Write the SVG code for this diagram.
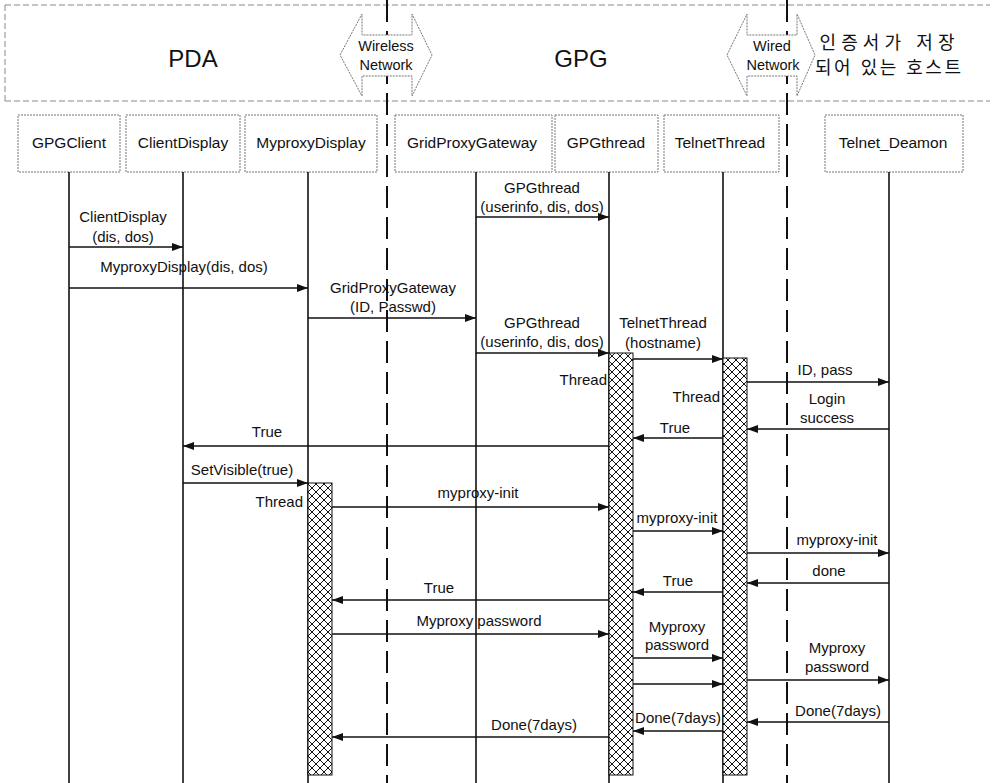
<svg xmlns="http://www.w3.org/2000/svg" width="993" height="783" viewBox="0 0 993 783">
  <style>
    text { font-family: "Liberation Sans", Arial, sans-serif; fill: #111; }
    .hdr { font-size: 24px; text-anchor: middle; }
    .net { font-size: 14.5px; text-anchor: middle; }
    .kr { font-family: "Liberation Sans", "Noto Sans CJK KR", sans-serif; font-size: 18px; text-anchor: middle; }
    .lbl { font-size: 15.5px; text-anchor: middle; }
    .msg { font-size: 15px; text-anchor: middle; }
    .thr { font-size: 15px; text-anchor: end; }
    .frame { stroke: #888; stroke-width: 1; stroke-dasharray: 6 3; fill: none; }
    .box { fill: #fff; stroke: #777; stroke-width: 1; stroke-dasharray: 2 1; }
    .netarrow { fill: #fff; stroke: #777; stroke-width: 1; stroke-dasharray: 2 1; }
    .life { stroke: #111; stroke-width: 1.6; fill: none; }
    .netline { stroke: #111; stroke-width: 2; stroke-dasharray: 22 9; fill: none; }
    .m { stroke: #111; stroke-width: 1.6; fill: none; marker-end: url(#ah); }
    .act { fill: url(#hatch); stroke: #111; stroke-width: 1; }
  </style>
  <defs>
    <marker id="ah" viewBox="0 0 11 8" refX="11" refY="4" markerWidth="11" markerHeight="8" orient="auto" markerUnits="userSpaceOnUse">
      <path d="M0,0 L11,4 L0,8 z" fill="#111"/>
    </marker>
    <pattern id="hatch" patternUnits="userSpaceOnUse" width="8" height="8">
      <rect width="8" height="8" fill="#fff"/>
      <path d="M0,0 L8,8 M8,0 L0,8" stroke="#111" stroke-width="1"/>
    </pattern>
  </defs>

  <!-- header frame -->
  <g id="header">
    <line class="frame" x1="5" y1="5" x2="990" y2="5"/>
    <line class="frame" x1="5" y1="5" x2="5" y2="101"/>
    <line class="frame" x1="5" y1="101" x2="990" y2="101"/>
    <text class="hdr" x="193" y="67">PDA</text>
    <text class="hdr" x="581" y="67">GPG</text>
    <text class="kr" x="887" y="49" textLength="135" lengthAdjust="spacing">인증서가 저장</text>
    <text class="kr" x="888" y="74" textLength="146" lengthAdjust="spacing">되어 있는 호스트</text>
  </g>

  <!-- network boundaries -->
  <g id="wireless-network">
    <line class="netline" x1="387" y1="0" x2="387" y2="783"/>
    <polygon class="netarrow" points="340,55 362,14 362,35 412,35 412,14 432,55 412,96 412,76 362,76 362,96"/>
    <text class="net" x="386" y="51">Wireless</text>
    <text class="net" x="386" y="70">Network</text>
  </g>
  <g id="wired-network">
    <line class="netline" x1="787" y1="0" x2="787" y2="783"/>
    <polygon class="netarrow" points="727,55 747,14 747,35 797,35 797,14 815,55 797,96 797,76 747,76 747,96"/>
    <text class="net" x="772" y="51">Wired</text>
    <text class="net" x="773" y="70">Network</text>
  </g>

  <!-- lifelines -->
  <g id="GPGClient">
    <rect class="box" x="18" y="115" width="102" height="57"/>
    <text class="lbl" x="69" y="148">GPGClient</text>
    <line class="life" x1="69" y1="172" x2="69" y2="783"/>
  </g>
  <g id="ClientDisplay">
    <rect class="box" x="126" y="115" width="114" height="57"/>
    <text class="lbl" x="183" y="148">ClientDisplay</text>
    <line class="life" x1="183" y1="172" x2="183" y2="783"/>
  </g>
  <g id="MyproxyDisplay">
    <rect class="box" x="245" y="115" width="132" height="57"/>
    <text class="lbl" x="311" y="148">MyproxyDisplay</text>
    <line class="life" x1="308" y1="172" x2="308" y2="783"/>
    <rect class="act" x="308" y="483" width="24" height="292"/>
  </g>
  <g id="GridProxyGateway">
    <rect class="box" x="395" y="115" width="157" height="57"/>
    <text class="lbl" x="472" y="148">GridProxyGateway</text>
    <line class="life" x1="476" y1="172" x2="476" y2="783"/>
  </g>
  <g id="GPGthread">
    <rect class="box" x="555" y="115" width="103" height="57"/>
    <text class="lbl" x="606" y="148">GPGthread</text>
    <line class="life" x1="609" y1="172" x2="609" y2="783"/>
    <rect class="act" x="609" y="353" width="24" height="422"/>
  </g>
  <g id="TelnetThread">
    <rect class="box" x="664" y="115" width="115" height="57"/>
    <text class="lbl" x="720" y="148">TelnetThread</text>
    <line class="life" x1="723" y1="172" x2="723" y2="783"/>
    <rect class="act" x="723" y="358" width="24" height="417"/>
  </g>
  <g id="Telnet_Deamon">
    <rect class="box" x="825" y="115" width="138" height="57"/>
    <text class="lbl" x="893" y="148">Telnet_Deamon</text>
    <line class="life" x1="889" y1="172" x2="889" y2="783"/>
  </g>

  <!-- messages -->
  <g id="messages">
    <line class="m" x1="476" y1="217" x2="609" y2="217"/>
    <line class="m" x1="69" y1="247" x2="183" y2="247"/>
    <line class="m" x1="69" y1="288" x2="308" y2="288"/>
    <line class="m" x1="308" y1="318" x2="476" y2="318"/>
    <line class="m" x1="476" y1="353" x2="609" y2="353"/>
    <line class="m" x1="633" y1="359" x2="723" y2="359"/>
    <line class="m" x1="747" y1="382" x2="889" y2="382"/>
    <line class="m" x1="889" y1="429" x2="747" y2="429"/>
    <line class="m" x1="723" y1="438" x2="633" y2="438"/>
    <line class="m" x1="609" y1="446" x2="183" y2="446"/>
    <line class="m" x1="183" y1="483" x2="308" y2="483"/>
    <line class="m" x1="332" y1="507" x2="609" y2="507"/>
    <line class="m" x1="633" y1="531" x2="723" y2="531"/>
    <line class="m" x1="747" y1="553" x2="889" y2="553"/>
    <line class="m" x1="889" y1="583" x2="747" y2="583"/>
    <line class="m" x1="723" y1="592" x2="633" y2="592"/>
    <line class="m" x1="609" y1="600" x2="332" y2="600"/>
    <line class="m" x1="332" y1="634" x2="609" y2="634"/>
    <line class="m" x1="633" y1="658" x2="723" y2="658"/>
    <line class="m" x1="747" y1="680" x2="889" y2="680"/>
    <line class="m" x1="633" y1="684" x2="723" y2="684"/>
    <line class="m" x1="889" y1="722" x2="747" y2="722"/>
    <line class="m" x1="723" y1="731" x2="633" y2="731"/>
    <line class="m" x1="609" y1="737" x2="332" y2="737"/>
  </g>

  <!-- message labels -->
  <g id="labels">
    <text class="msg" x="542" y="193">GPGthread</text>
    <text class="msg" x="542" y="212">(userinfo, dis, dos)</text>
    <text class="msg" x="123" y="222">ClientDisplay</text>
    <text class="msg" x="123" y="242">(dis, dos)</text>
    <text class="msg" x="184" y="272">MyproxyDisplay(dis, dos)</text>
    <text class="msg" x="393" y="293">GridProxyGateway</text>
    <text class="msg" x="393" y="312">(ID, Passwd)</text>
    <text class="msg" x="542" y="328">GPGthread</text>
    <text class="msg" x="542" y="347">(userinfo, dis, dos)</text>
    <text class="msg" x="663" y="328">TelnetThread</text>
    <text class="msg" x="663" y="348">(hostname)</text>
    <text class="thr" x="607" y="385">Thread</text>
    <text class="msg" x="825" y="375">ID, pass</text>
    <text class="thr" x="720" y="402">Thread</text>
    <text class="msg" x="827" y="404">Login</text>
    <text class="msg" x="827" y="423">success</text>
    <text class="msg" x="675" y="433">True</text>
    <text class="msg" x="267" y="437">True</text>
    <text class="msg" x="242" y="475">SetVisible(true)</text>
    <text class="thr" x="303" y="507">Thread</text>
    <text class="msg" x="478" y="498">myproxy-init</text>
    <text class="msg" x="677" y="523">myproxy-init</text>
    <text class="msg" x="837" y="545">myproxy-init</text>
    <text class="msg" x="829" y="576">done</text>
    <text class="msg" x="678" y="586">True</text>
    <text class="msg" x="439" y="593">True</text>
    <text class="msg" x="479" y="626">Myproxy password</text>
    <text class="msg" x="677" y="632">Myproxy</text>
    <text class="msg" x="677" y="650">password</text>
    <text class="msg" x="837" y="653">Myproxy</text>
    <text class="msg" x="837" y="672">password</text>
    <text class="msg" x="838" y="716">Done(7days)</text>
    <text class="msg" x="678" y="723">Done(7days)</text>
    <text class="msg" x="534" y="730">Done(7days)</text>
  </g>
</svg>
